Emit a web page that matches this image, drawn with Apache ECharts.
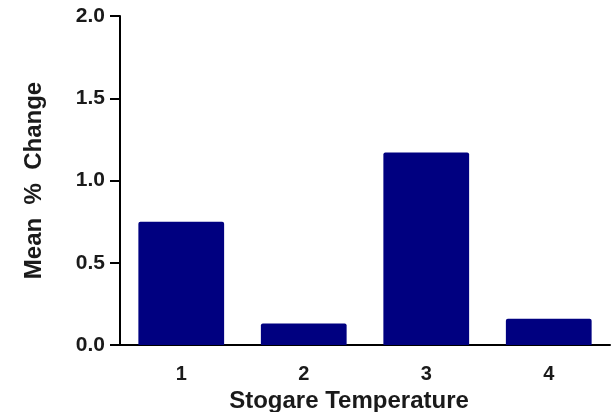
<!DOCTYPE html>
<html>
<head>
<meta charset="utf-8">
<script src="https://cdn.jsdelivr.net/npm/echarts@6/dist/echarts.min.js"></script>
<style>html,body{margin:0;padding:0;background:#fff;}#c{width:612px;height:412px;}</style>
</head>
<body>
<div id="c"></div>
<script>
const categories = ['1', '2', '3', '4'];
const meanChange = [0.75, 0.13, 1.17, 0.16];
const yTicks = { min: 0, max: 2, interval: 0.5 };

const chart = echarts.init(document.getElementById('c'), null, { renderer: 'canvas' });
const font = '"Liberation Sans", Arial, sans-serif';
chart.setOption({
  animation: false,
  backgroundColor: '#ffffff',
  grid: { left: 120, right: 2, top: 16, bottom: 67, containLabel: false, outerBoundsMode: 'none' },
  xAxis: {
    type: 'category',
    data: categories,
    name: 'Stogare Temperature',
    nameLocation: 'middle',
    nameGap: 41,
    nameTextStyle: { fontFamily: font, fontWeight: 'bold', fontSize: 24, color: '#1a1a1a', padding: [0, 32, 0, 0] },
    axisLine: { lineStyle: { color: '#000', width: 2 } },
    axisTick: { show: false },
    axisLabel: { margin: 19, fontFamily: font, fontWeight: 'bold', fontSize: 20, color: '#1a1a1a' },
    splitLine: { show: false }
  },
  yAxis: {
    type: 'value',
    min: yTicks.min, max: yTicks.max, interval: yTicks.interval,
    name: 'Mean  %  Change',
    nameLocation: 'middle',
    nameGap: 74,
    nameRotate: 90,
    nameTextStyle: { fontFamily: font, fontWeight: 'bold', fontSize: 24, color: '#1a1a1a' },
    axisLine: { show: true, lineStyle: { color: '#000', width: 2 } },
    axisTick: { show: true, inside: false, length: 10, lineStyle: { color: '#000', width: 2 } },
    axisLabel: { margin: 15, fontFamily: font, fontWeight: 'bold', fontSize: 21, color: '#1a1a1a',
      formatter: v => v.toFixed(1) },
    splitLine: { show: false }
  },
  series: [{
    type: 'bar',
    data: meanChange,
    barWidth: '70%',
    itemStyle: { color: '#000080', borderRadius: [2, 2, 0, 0] }
  }]
});
</script>
</body>
</html>
